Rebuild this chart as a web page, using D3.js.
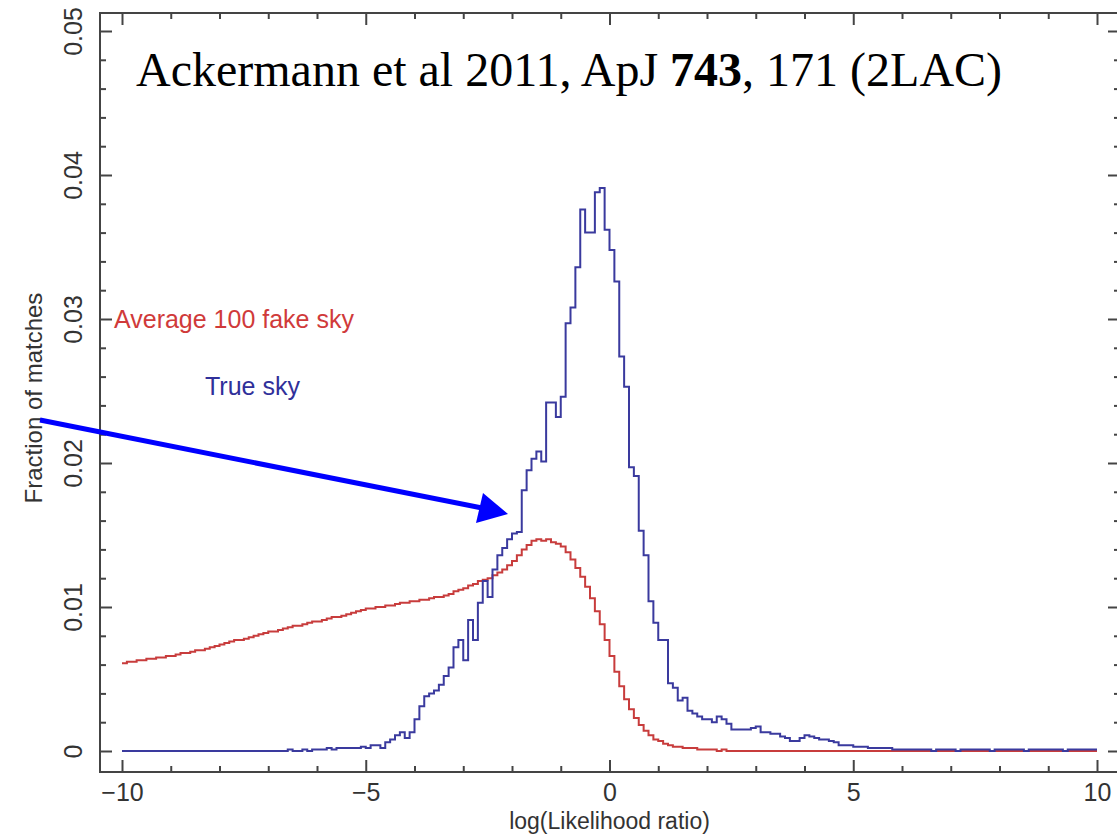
<!DOCTYPE html>
<html>
<head>
<meta charset="utf-8">
<script src="https://cdn.jsdelivr.net/npm/d3@7"></script>
<style>
  html, body { margin: 0; padding: 0; background: #fff; }
  svg { display: block; }
  .axis text { font-family: "Liberation Sans", Arial, sans-serif; font-size: 25px; fill: #333; }
  .axis line { stroke: #444; stroke-width: 2; }
</style>
</head>
<body>
<div id="chart"></div>
<script>
// histogram bins: 0.1 wide, from -10 to 10
const binStart = -10, binWidth = 0.1;

// True sky (blue)
const trueSky = [
  0,0,0,0,0,0,0,0,0,0,
  0,0,0,0,0,0,0,0,0,0,
  0,0,0,0,0,0,0,0,0,0,
  0,0,0,0,0.0001,0,0,0.0001,0,0.0001,
  0.0001,0.0001,0.0002,0.0001,0.0002,0.0002,0.0002,0.0002,0.0002,0.0003,
  0.0002,0.0004,0.0004,0.0002,0.0006,0.0008,0.0011,0.0013,0.0009,0.0013,
  0.0022,0.0031,0.0038,0.0040,0.0042,0.0046,0.0052,0.0058,0.0072,0.0077,
  0.0063,0.0091,0.0077,0.0103,0.0118,0.0107,0.0126,0.0136,0.0141,0.0147,
  0.0151,0.0152,0.0181,0.0195,0.0203,0.0208,0.0201,0.0242,0.0242,0.0232,
  0.0246,0.0297,0.0308,0.0336,0.0376,0.0360,0.0360,0.0388,0.0391,0.0362,
  0.0348,0.0326,0.0274,0.0253,0.0197,0.0191,0.0153,0.0136,0.0104,0.0089,
  0.0077,0.0077,0.0047,0.0044,0.0035,0.0037,0.0028,0.0026,0.0024,0.0022,
  0.0022,0.0020,0.0024,0.0022,0.0019,0.0015,0.0015,0.0015,0.0015,0.0016,
  0.0017,0.0013,0.0013,0.0012,0.0012,0.0010,0.0009,0.0007,0.0007,0.0009,
  0.0011,0.0010,0.0009,0.0008,0.0008,0.0007,0.0006,0.0004,0.0004,0.0004,
  0.0003,0.0003,0.0003,0.0002,0.0002,0.0002,0.0002,0.0002,0.0001,0.0001,
  0.0001,0.0001,0.0001,0.0001,0.0001,0.0001,0,0.0001,0.0001,0.0001,
  0.0001,0,0.0001,0.0001,0.0001,0.0001,0.0001,0.0001,0,0.0001,
  0.0001,0.0001,0.0001,0.0001,0.0001,0,0.0001,0.0001,0.0001,0.0001,
  0.0001,0.0001,0.0001,0,0.0001,0.0001,0.0001,0.0001,0.0001,0.0001
];

// Average of 100 fake skies (red)
const fakeSky = [
  0.0061,0.0062,0.0062,0.0063,0.0063,0.0064,0.0064,0.0065,0.0065,0.0066,
  0.0066,0.0067,0.0068,0.0068,0.0069,0.0070,0.0070,0.0071,0.0072,0.0073,
  0.0074,0.0075,0.0076,0.0077,0.0077,0.0078,0.0079,0.0080,0.0081,0.0082,
  0.0083,0.0083,0.0084,0.0085,0.0086,0.0087,0.0087,0.0088,0.0089,0.0090,
  0.0090,0.0091,0.0092,0.0093,0.0093,0.0094,0.0095,0.0096,0.0097,0.0098,
  0.0099,0.0099,0.0100,0.0100,0.0101,0.0101,0.0102,0.0103,0.0103,0.0104,
  0.0104,0.0105,0.0105,0.0106,0.0107,0.0107,0.0108,0.0109,0.0111,0.0112,
  0.0113,0.0115,0.0116,0.0118,0.0119,0.0120,0.0122,0.0124,0.0126,0.0129,
  0.0132,0.0136,0.0140,0.0143,0.0146,0.0147,0.0146,0.0147,0.0145,0.0144,
  0.0142,0.0138,0.0133,0.0127,0.0121,0.0114,0.0106,0.0097,0.0088,0.0077,
  0.0066,0.0055,0.0045,0.0036,0.0029,0.0023,0.0018,0.0014,0.0011,0.0008,
  0.0007,0.0005,0.0004,0.0003,0.0003,0.0002,0.0002,0.0002,0.0001,0.0001,
  0.0001,0.0001,0,0.0001,0,0,0,0,0,0,
  0,0,0,0,0,0,0,0,0,0,
  0,0,0,0,0,0,0,0,0,0,
  0,0,0,0,0,0,0,0,0,0,
  0,0,0,0,0,0,0,0,0,0,
  0,0,0,0,0,0,0,0,0,0,
  0,0,0,0,0,0,0,0,0,0,
  0,0,0,0,0,0,0,0,0,0
];

const xMajor = [-10, -5, 0, 5, 10];
const xMinor = [-9, -8, -7, -6, -4, -3, -2, -1, 1, 2, 3, 4, 6, 7, 8, 9];
const yMajor = [0, 0.01, 0.02, 0.03, 0.04, 0.05];
const yMinor = [0.002, 0.004, 0.006, 0.008, 0.012, 0.014, 0.016, 0.018, 0.022, 0.024, 0.026, 0.028,
                0.032, 0.034, 0.036, 0.038, 0.042, 0.044, 0.046, 0.048];
const yLabels = ["0", "0.01", "0.02", "0.03", "0.04", "0.05"];

const W = 1117, H = 837;
const frame = {left: 100, right: 1120, top: 13, bottom: 772};

const svg = d3.select("#chart").append("svg")
    .attr("width", W)
    .attr("height", H);

const x = d3.scaleLinear().domain([-10, 10]).range([122, 1097]);
const y = d3.scaleLinear().domain([0, 0.05]).range([751, 31]);

// axes with inward ticks
const fmtY = d => yLabels[yMajor.indexOf(d)];

const left = svg.append("g").attr("class", "axis")
    .attr("transform", `translate(${frame.left},0)`)
    .call(d3.axisLeft(y).tickValues(yMajor).tickSize(-12).tickSizeOuter(0).tickFormat(fmtY));
left.selectAll("text")
    .attr("transform", "rotate(-90)")
    .attr("x", 0).attr("y", -18).attr("dy", 0)
    .attr("text-anchor", "middle");
svg.append("g").attr("class", "axis")
    .attr("transform", `translate(${frame.left},0)`)
    .call(d3.axisLeft(y).tickValues(yMinor).tickSize(-6).tickSizeOuter(0).tickFormat(""));

svg.append("g").attr("class", "axis")
    .attr("transform", `translate(${frame.right},0)`)
    .call(d3.axisRight(y).tickValues(yMajor).tickSize(-12).tickSizeOuter(0).tickFormat(""));
svg.append("g").attr("class", "axis")
    .attr("transform", `translate(${frame.right},0)`)
    .call(d3.axisRight(y).tickValues(yMinor).tickSize(-6).tickSizeOuter(0).tickFormat(""));

svg.append("g").attr("class", "axis")
    .attr("transform", `translate(0,${frame.bottom})`)
    .call(d3.axisBottom(x).tickValues(xMajor).tickSize(-12).tickSizeOuter(0).tickPadding(11));
svg.append("g").attr("class", "axis")
    .attr("transform", `translate(0,${frame.bottom})`)
    .call(d3.axisBottom(x).tickValues(xMinor).tickSize(-6).tickSizeOuter(0).tickFormat(""));

svg.append("g").attr("class", "axis")
    .attr("transform", `translate(0,${frame.top})`)
    .call(d3.axisTop(x).tickValues(xMajor).tickSize(-12).tickSizeOuter(0).tickFormat(""));
svg.append("g").attr("class", "axis")
    .attr("transform", `translate(0,${frame.top})`)
    .call(d3.axisTop(x).tickValues(xMinor).tickSize(-6).tickSizeOuter(0).tickFormat(""));

svg.selectAll(".axis .domain").remove();

svg.append("rect")
    .attr("x", frame.left).attr("y", frame.top)
    .attr("width", frame.right - frame.left)
    .attr("height", frame.bottom - frame.top)
    .attr("fill", "none")
    .attr("stroke", "#444")
    .attr("stroke-width", 2);

// step histograms
function steps(vals) {
  const pts = vals.map((v, i) => [binStart + i * binWidth, v]);
  pts.push([binStart + vals.length * binWidth, vals[vals.length - 1]]);
  return pts;
}
const line = d3.line()
    .x(d => x(d[0]))
    .y(d => y(d[1]))
    .curve(d3.curveStepAfter);

svg.append("path")
    .datum(steps(fakeSky))
    .attr("d", line)
    .attr("fill", "none")
    .attr("stroke", "#c83c3c")
    .attr("stroke-width", 2);

svg.append("path")
    .datum(steps(trueSky))
    .attr("d", line)
    .attr("fill", "none")
    .attr("stroke", "#3a3a9e")
    .attr("stroke-width", 2);

// axis titles
svg.append("text")
    .attr("x", x(0)).attr("y", 829)
    .attr("text-anchor", "middle")
    .style("font-family", "Liberation Sans, Arial, sans-serif")
    .style("font-size", "23px")
    .style("fill", "#333")
    .text("log(Likelihood ratio)");

svg.append("text")
    .attr("transform", "translate(42,398) rotate(-90)")
    .attr("text-anchor", "middle")
    .style("font-family", "Liberation Sans, Arial, sans-serif")
    .style("font-size", "24px")
    .style("fill", "#333")
    .text("Fraction of matches");

// legend labels
svg.append("text")
    .attr("x", 114).attr("y", 328)
    .style("font-family", "Liberation Sans, Arial, sans-serif")
    .style("font-size", "25px")
    .style("fill", "#d03a3a")
    .text("Average 100 fake sky");

svg.append("text")
    .attr("x", 205).attr("y", 395)
    .style("font-family", "Liberation Sans, Arial, sans-serif")
    .style("font-size", "25px")
    .style("fill", "#30309a")
    .text("True sky");

// reference
const ref = svg.append("text")
    .attr("x", 136).attr("y", 86)
    .style("font-family", "Liberation Serif, Times New Roman, serif")
    .style("font-size", "48px")
    .style("fill", "#000");
ref.append("tspan").text("Ackermann et al 2011, ApJ ");
ref.append("tspan").style("font-weight", "bold").text("743");
ref.append("tspan").text(", 171 (2LAC)");

// arrow
svg.append("line")
    .attr("x1", 40).attr("y1", 420)
    .attr("x2", 482).attr("y2", 508)
    .attr("stroke", "#0000ff")
    .attr("stroke-width", 5);
svg.append("path")
    .attr("d", "M508,514 L483,493 L476,523 Z")
    .attr("fill", "#0000ff");
</script>
</body>
</html>
